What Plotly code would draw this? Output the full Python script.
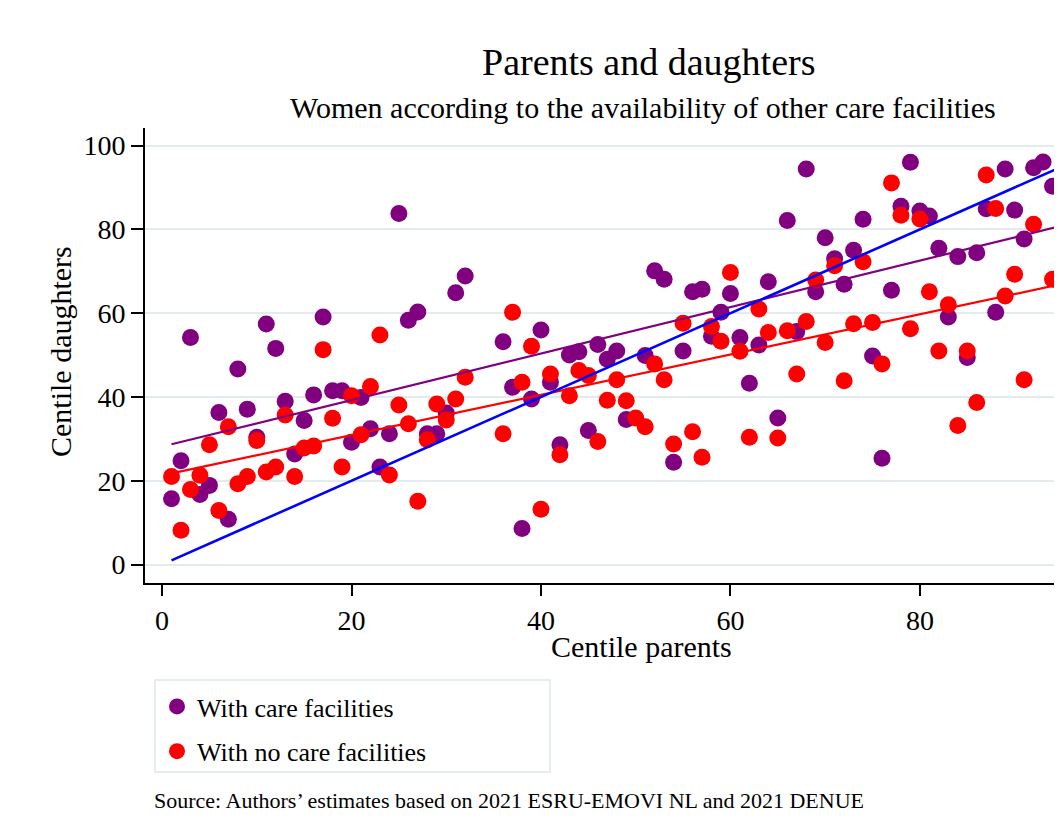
import plotly.graph_objects as go

# ---------------- data ----------------
centile_parents = list(range(1, 96))

care_daughters = [
    15.7, 24.8, 54.2, 16.7, 18.9, 36.3, 10.8, 46.7, 37.1, 30.4,   # 1-10
    57.4, 51.6, 39.0, 26.4, 34.4, 40.5, 59.1, 41.5, 41.5, 29.2,   # 11-20
    39.9, 32.4, 23.3, 31.2, 83.8, 58.3, 60.3, 31.2, 31.2, 36.2,   # 21-30
    64.9, 68.9, None, None, None, 53.2, 42.3, 8.6, 39.5, 56.0,    # 31-40
    43.5, 28.6, 50.0, 50.8, 32.0, 52.5, 49.0, 51.0, 34.6, None,   # 41-50
    49.9, 70.1, 68.1, 24.4, 51.0, 65.1, 65.7, 54.5, 60.2, 64.7,   # 51-60
    54.2, 43.3, 52.4, 67.5, 35.0, 82.1, 55.6, 94.4, 65.1, 78.0,   # 61-70
    73.0, 66.9, 75.0, 82.4, 49.8, 25.4, 65.5, 85.5, 96.0, 84.4,   # 71-80
    83.2, 75.5, 59.1, 73.5, 49.4, 74.4, 84.9, 60.2, 94.4, 84.6,   # 81-90
    77.7, 94.7, 96.1, 90.3, 91.2,                                 # 91-95
]

nocare_daughters = [
    21.0, 8.2, 17.9, 21.3, 28.6, 12.9, 32.9, 19.3, 21.0, 29.6,    # 1-10
    22.1, 23.3, 35.7, 21.0, 27.8, 28.3, 51.3, 34.9, 23.3, 40.3,   # 11-20
    31.0, 42.5, 54.8, 21.4, 38.1, 33.6, 15.1, 29.8, 38.3, 34.5,   # 21-30
    39.5, 44.7, None, None, None, 31.2, 60.2, 43.5, 52.1, 13.2,   # 31-40
    45.5, 26.2, 40.3, 46.3, 45.1, 29.4, 39.2, 44.1, 39.1, 35.0,   # 41-50
    32.9, 47.9, 44.1, 28.8, 57.6, 31.7, 25.6, 56.8, 53.3, 69.7,   # 51-60
    50.9, 30.4, 61.0, 55.4, 30.2, 55.8, 45.5, 58.0, 67.9, 53.0,   # 61-70
    71.3, 43.9, 57.5, 72.3, 57.8, 47.9, 91.1, 83.4, 56.3, 82.5,   # 71-80
    65.1, 51.0, 62.0, 33.2, 51.0, 38.7, 93.0, 85.0, 64.1, 69.3,   # 81-90
    44.1, 81.2, None, 68.1, None,                                 # 91-95
]

# linear fits (intercept, slope)
care_fit = (28.15, 0.555)
nocare_fit = (21.27, 0.481)
fit_x = [1, 100]

x_ticks = [0, 20, 40, 60, 80]
y_ticks = [0, 20, 40, 60, 80, 100]

title = "Parents and daughters"
subtitle = "Women according to the availability of other care facilities"
source = "Source: Authors\u2019 estimates based on 2021 ESRU-EMOVI NL and 2021 DENUE"

# ---------------- figure ----------------
SERIF = "Liberation Serif, Times New Roman, serif"
PURPLE = "#800080"
RED = "#ff0000"
BLUE = "#0000ff"

fig = go.Figure()

fig.add_trace(go.Scatter(
    x=centile_parents, y=care_daughters, mode="markers",
    name="With care facilities", legendgroup="a",
    marker=dict(color=PURPLE, size=17, line=dict(width=0)),
))
fig.add_trace(go.Scatter(
    x=centile_parents, y=nocare_daughters, mode="markers",
    name="With no care facilities", legendgroup="b",
    marker=dict(color=RED, size=17, line=dict(width=0)),
))
fig.add_trace(go.Scatter(
    x=fit_x, y=[care_fit[0] + care_fit[1] * v for v in fit_x], mode="lines",
    line=dict(color=PURPLE, width=2.2), showlegend=False, hoverinfo="skip",
))
fig.add_trace(go.Scatter(
    x=fit_x, y=[nocare_fit[0] + nocare_fit[1] * v for v in fit_x], mode="lines",
    line=dict(color=RED, width=2.2), showlegend=False, hoverinfo="skip",
))
fig.add_trace(go.Scatter(
    x=fit_x, y=fit_x, mode="lines",
    line=dict(color=BLUE, width=2.6), showlegend=False, hoverinfo="skip",
))

# the page is shown with an 8px body margin: lay out in screen pixels minus 8
OFF = 8
W, H = 1062 - OFF, 839 - 2 * OFF - 1
L, R, T = 145 - OFF, 0, 128 - OFF
B = H - (583 - OFF)
pw, ph = W - L - R, H - T - B

def px(xs):
    return (xs - OFF - L) / pw

def py(ys):
    return ((583 - OFF) - (ys - OFF)) / ph

fig.update_layout(
    width=W, height=H, autosize=False,
    margin=dict(l=L, r=R, t=T, b=B, pad=0),
    paper_bgcolor="white", plot_bgcolor="white",
    font=dict(family=SERIF, color="black"),
    showlegend=True,
    legend=dict(
        x=px(157), y=py(683), xanchor="left", yanchor="top",
        borderwidth=0, bgcolor="rgba(0,0,0,0)",
        font=dict(family=SERIF, size=26, color="black"),
        tracegroupgap=8, itemsizing="trace",
    ),
    shapes=[
        dict(type="rect", xref="paper", yref="paper",
             x0=px(155), x1=px(550), y0=py(680), y1=py(772),
             line=dict(color="#dde7eb", width=1.5), fillcolor="rgba(0,0,0,0)",
             layer="below"),
    ],
    xaxis=dict(
        range=[-1.8, 95.0], tickvals=x_ticks, ticks="outside", ticklen=11,
        tickwidth=2, tickcolor="black", showline=True, linecolor="black",
        linewidth=2, showgrid=False, zeroline=False,
        tickfont=dict(family=SERIF, size=28, color="black"),
        ticklabelstandoff=0,
    ),
    yaxis=dict(
        range=[-4.4, 104.2], tickvals=y_ticks, ticks="outside", ticklen=12,
        tickwidth=2, tickcolor="black", showline=True, linecolor="black",
        linewidth=2, showgrid=True, gridcolor="#e3ebee", gridwidth=2,
        zeroline=False,
        tickfont=dict(family=SERIF, size=28, color="black"),
    ),
    annotations=[
        dict(text=title, x=px(648), y=py(62), xref="paper", yref="paper",
             xanchor="center", yanchor="middle", showarrow=False,
             font=dict(family=SERIF, size=38, color="black")),
        dict(text=subtitle, x=px(643), y=py(108), xref="paper", yref="paper",
             xanchor="center", yanchor="middle", showarrow=False,
             font=dict(family=SERIF, size=30, color="black")),
        dict(text="Centile daughters", x=px(60), y=py(352), xref="paper",
             yref="paper", xanchor="center", yanchor="middle", textangle=-90,
             showarrow=False, font=dict(family=SERIF, size=30, color="black")),
        dict(text="Centile parents", x=px(641), y=py(646), xref="paper",
             yref="paper", xanchor="center", yanchor="middle",
             showarrow=False, font=dict(family=SERIF, size=30, color="black")),
        dict(text=source, x=px(152), y=py(800), xref="paper", yref="paper",
             xanchor="left", yanchor="middle", showarrow=False,
             font=dict(family=SERIF, size=22, color="black")),
    ],
)

fig.write_html("out.html")
